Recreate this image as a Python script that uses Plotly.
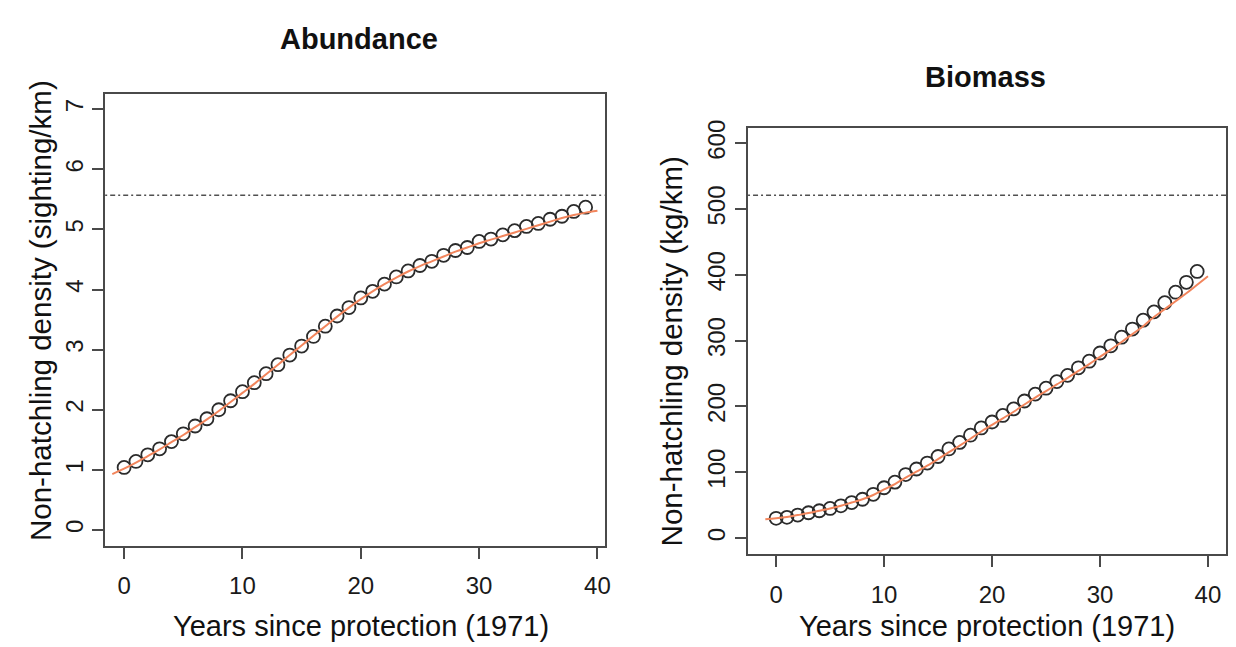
import plotly.graph_objects as go

# ---------------- data ----------------
years = list(range(0, 40))

abundance = [1.04, 1.14, 1.25, 1.35, 1.47, 1.60, 1.73, 1.85, 2.00, 2.15,
             2.30, 2.45, 2.60, 2.75, 2.91, 3.06, 3.22, 3.39, 3.56, 3.70,
             3.86, 3.97, 4.09, 4.21, 4.31, 4.40, 4.47, 4.57, 4.65, 4.70,
             4.80, 4.84, 4.91, 4.98, 5.05, 5.10, 5.17, 5.22, 5.30, 5.37]

biomass = [30.0, 31.5, 35.0, 38.5, 41.5, 45.0, 49.0, 54.0, 59.0, 66.5,
           76.5, 85.0, 96.5, 105.0, 114.0, 124.0, 135.5, 145.4, 156.4, 167.4,
           176.4, 186.4, 196.3, 208.3, 218.8, 227.8, 237.8, 247.3, 258.8, 268.8,
           281.3, 292.2, 305.3, 317.7, 331.2, 343.8, 357.7, 373.7, 388.7, 405.2]

fit_years = list(range(-1, 41))

abundance_fit = [0.93, 1.02, 1.12, 1.23, 1.34, 1.46, 1.58, 1.71, 1.84, 1.98,
                 2.13, 2.28, 2.43, 2.59, 2.75, 2.91, 3.07, 3.23, 3.39, 3.55,
                 3.70, 3.84, 3.97, 4.09, 4.20, 4.30, 4.39, 4.47, 4.55, 4.63,
                 4.70, 4.77, 4.83, 4.89, 4.95, 5.01, 5.07, 5.13, 5.19, 5.24,
                 5.28, 5.31]

biomass_fit = [28.5, 30.0, 32.0, 35.0, 38.0, 41.5, 45.0, 49.0, 54.0, 59.0,
               65.5, 74.0, 82.0, 92.0, 101.0, 110.0, 120.0, 130.5, 140.5, 151.0,
               162.0, 172.0, 182.0, 192.0, 203.0, 213.5, 223.5, 233.5, 243.5, 254.0,
               264.5, 275.5, 286.5, 298.0, 310.0, 322.0, 336.0, 348.0, 360.0, 372.0,
               385.0, 398.0]

abundance_ref = 5.57   # dash-dot reference level
biomass_ref = 521.0

x_ticks = [0, 10, 20, 30, 40]
abund_ticks = [0, 1, 2, 3, 4, 5, 6, 7]
bio_ticks = [0, 100, 200, 300, 400, 500, 600]

titles = ["Abundance", "Biomass"]
xlab = "Years since protection (1971)"
ylab_left = "Non-hatchling density (sighting/km)"
ylab_right = "Non-hatchling density (kg/km)"

# ---------------- styling ----------------
FONT = "Liberation Sans, Arial, Helvetica, sans-serif"
W, H = 1236, 647
POINT_COLOR = "#2b2b2b"
FIT_COLOR = "#F2855C"
AXIS_COLOR = "#4a4a4a"
TICK_FONT = 24
XLAB_FONT = 29
YLAB_FONT = 29.5
TITLE_FONT = 29

fig = go.Figure()

marker_style = dict(symbol="circle-open", size=13, color=POINT_COLOR,
                    line=dict(width=1.8, color=POINT_COLOR))

# left panel
fig.add_trace(go.Scatter(x=years, y=abundance, mode="markers", xaxis="x", yaxis="y",
                         marker=marker_style, showlegend=False))
fig.add_trace(go.Scatter(x=fit_years, y=abundance_fit, mode="lines", xaxis="x", yaxis="y",
                         line=dict(color=FIT_COLOR, width=2, shape="spline"),
                         showlegend=False))
# right panel
fig.add_trace(go.Scatter(x=years, y=biomass, mode="markers", xaxis="x2", yaxis="y2",
                         marker=marker_style, showlegend=False))
fig.add_trace(go.Scatter(x=fit_years, y=biomass_fit, mode="lines", xaxis="x2", yaxis="y2",
                         line=dict(color=FIT_COLOR, width=2, shape="spline"),
                         showlegend=False))

dash_pattern = "2px,3px,5px,3px"
fig.add_shape(type="line", xref="x domain", yref="y", x0=0, x1=1,
              y0=abundance_ref, y1=abundance_ref,
              line=dict(color="#505050", width=1.5, dash=dash_pattern))
fig.add_shape(type="line", xref="x2 domain", yref="y2", x0=0, x1=1,
              y0=biomass_ref, y1=biomass_ref,
              line=dict(color="#505050", width=1.5, dash=dash_pattern))

# pixel geometry of the two plotting boxes
L_box = (105.7, 607.5, 86.7, 544.3)   # x0, x1, ytop, ybottom
R_box = (751.7, 1232.3, 121.0, 552.7)


def dom_x(b):
    return [b[0] / W, b[1] / W]


def dom_y(b):
    return [(H - b[3]) / H, (H - b[2]) / H]


axis_common = dict(showgrid=False, zeroline=False, showline=True, mirror=True,
                   linecolor=AXIS_COLOR, linewidth=2, ticks="outside", ticklen=11,
                   tickwidth=1.5, tickcolor=AXIS_COLOR,
                   tickfont=dict(family=FONT, size=TICK_FONT, color="#1a1a1a"))

fig.update_layout(
    width=W, height=H, margin=dict(l=0, r=0, t=0, b=0),
    paper_bgcolor="white", plot_bgcolor="white", showlegend=False,
    xaxis=dict(domain=dom_x(L_box), range=[-1.6, 40.6], tickvals=x_ticks,
               anchor="y", ticklabelstandoff=7, **axis_common),
    yaxis=dict(domain=dom_y(L_box), range=[-0.26, 7.26], tickvals=abund_ticks,
               anchor="x", tickangle=-90, ticklabelstandoff=0, **axis_common),
    xaxis2=dict(domain=dom_x(R_box), range=[-2.6, 41.7], tickvals=x_ticks,
                anchor="y2", ticklabelstandoff=7, **axis_common),
    yaxis2=dict(domain=dom_y(R_box), range=[-24, 624], tickvals=bio_ticks,
                anchor="x2", tickangle=-90, ticklabelstandoff=0, **axis_common),
)


def ann(text, px, py, size, bold=False, angle=0):
    fig.add_annotation(text=("<b>%s</b>" % text) if bold else text,
                       x=px / W, y=(H - py) / H, xref="paper", yref="paper",
                       xanchor="center", yanchor="middle", showarrow=False,
                       textangle=angle,
                       font=dict(family=FONT, size=size, color="#111111"))


ann(titles[0], 361, 31, TITLE_FONT, bold=True)
ann(titles[1], 990, 70, TITLE_FONT, bold=True)
ann(xlab, 363, 626, XLAB_FONT)
ann(xlab, 992, 626, XLAB_FONT)
ann(ylab_left, 40, 306, YLAB_FONT, angle=-90)
ann(ylab_right, 675, 348, YLAB_FONT, angle=-90)

fig.write_html("out.html")
